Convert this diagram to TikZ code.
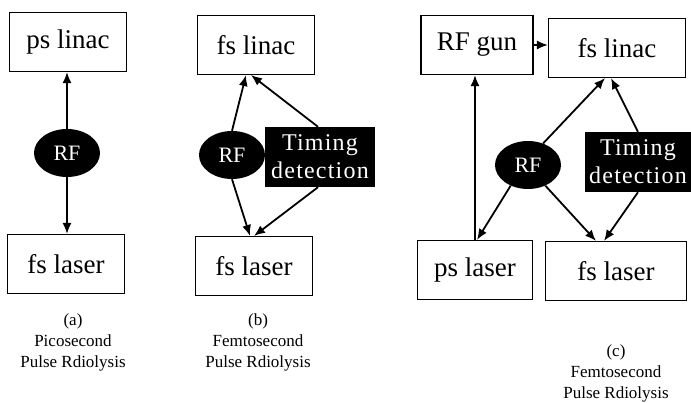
\documentclass[tikz,border=0pt]{standalone}
\usepackage{fontspec}
\setmainfont{Liberation Serif}
\usetikzlibrary{arrows.meta,shapes.geometric}
\begin{document}
\begin{tikzpicture}[x=1pt,y=-1pt,
  box/.style={draw, line width=1.1pt, minimum width=117pt, minimum height=59pt, inner sep=0pt, font=\fontsize{27}{29}\selectfont},
  rf/.style={ellipse, fill=black, text=white, minimum width=66pt, minimum height=48pt, inner sep=0pt, font=\fontsize{22}{24}\selectfont},
  td/.style={fill=black, text=white, minimum width=110pt, minimum height=60pt, inner sep=0pt, align=center, font=\fontsize{24}{28}\selectfont\addfontfeature{LetterSpace=5}},
  arr/.style={line width=1.8pt, -{Latex[length=11pt,width=9pt]}},
  captxt/.style={align=center, font=\fontsize{17}{21}\selectfont}]
\useasboundingbox (0,0) rectangle (691,403);
% (a)
\node[box] (alinac) at (68,42) {ps linac};
\node[rf] (arf) at (67,153) {RF};
\node[box] (alaser) at (66,264) {fs laser};
\draw[arr] (arf.north) -- (alinac.south -| arf.north);
\draw[arr] (arf.south) -- (alaser.north -| arf.south);
\node[captxt] (acap) at (73,342) {(a)\\Picosecond\\Pulse Rdiolysis};
% (b)
\node[box] (blinac) at (256,45) {fs linac};
\node[rf] (brf) at (232,155) {RF};
\node[td] (btd) at (320,157) {Timing\\detection};
\node[box] (blaser) at (254,266) {fs laser};
\draw[arr] (brf.north) -- ([xshift=-10pt]blinac.south);
\draw[arr] ([xshift=-2pt]btd.north) -- ([xshift=-5pt]blinac.south);
\draw[arr] (brf.south) -- ([xshift=-4pt]blaser.north);
\draw[arr] ([xshift=-2pt]btd.south) -- ([xshift=0pt]blaser.north);
\node[captxt] (bcap) at (258,342) {(b)\\Femtosecond\\Pulse Rdiolysis};
% (c)
\node[box, minimum width=112pt] (cgun) at (477,45) {RF gun};
\node[box, minimum width=137pt] (clinac) at (617,48) {fs linac};
\node[rf] (crf) at (528,165) {RF};
\node[td, minimum width=106pt] (ctd) at (638,162) {Timing\\detection};
\node[box, minimum width=115pt] (cpslaser) at (475,270) {ps laser};
\node[box, minimum width=141pt] (cfslaser) at (616,271) {fs laser};
\draw[arr] (cgun.east) -- (clinac.west |- cgun.east);
\draw[arr] (cpslaser.north) -- (cgun.south -| cpslaser.north);
\draw[arr] (crf.55) -- ([xshift=-12pt]clinac.south);
\draw[arr] (ctd.north) -- ([xshift=-6pt]clinac.south);
\draw[arr] (crf.230) -- ([xshift=2pt]cpslaser.north);
\draw[arr] (crf.310) -- ([xshift=-20pt]cfslaser.north);
\draw[arr] (ctd.south) -- ([xshift=-12pt]cfslaser.north);
\node[captxt] (ccap) at (616,373) {(c)\\Femtosecond\\Pulse Rdiolysis};
\end{tikzpicture}
\end{document}
